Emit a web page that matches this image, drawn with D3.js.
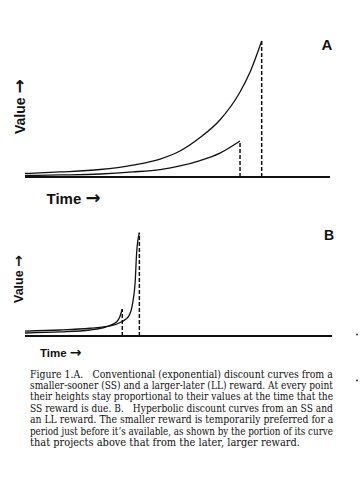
<!DOCTYPE html>
<html>
<head>
<meta charset="utf-8">
<script src="https://cdn.jsdelivr.net/npm/d3@7"></script>
<style>
  html, body { margin: 0; padding: 0; background: #fff; }
  svg { display: block; }
</style>
</head>
<body>
<svg id="chart" width="364" height="499"></svg>
<script>
// ---------- DATA ----------
// Panel A: exponential discount curves (time 0..100, value: LL peak = 100)
const timeA_LL  = [0, 11.5, 24.6, 35.4, 44.3, 50.8, 57.4, 63.9, 70.5, 73.8, 77.6];
const valueA_LL = [2.6, 3.7, 5.5, 8.8, 13.2, 19.1, 29.0, 41.9, 62.5, 77.2, 100];
const timeA_SS  = [0, 11.5, 24.6, 35.4, 44.3, 50.8, 57.4, 63.9, 70.5];
const valueA_SS = [1.1, 1.5, 2.2, 3.7, 5.5, 8.1, 12.1, 17.6, 26.5];
const dueA      = [70.5, 77.6];   // SS, LL reward times
const rewardA   = [26.5, 100];    // SS, LL reward sizes

// Panel B: hyperbolic discount curves
const timeB_LL  = [0, 11.5, 21.3, 27.9, 31.7, 33.9, 35.3, 36.1, 36.6, 37.5];
const valueB_LL = [4.8, 5.8, 7.5, 9.7, 13.8, 18.7, 31.9, 51.3, 80.3, 100];
const timeB_SS  = [0, 11.5, 21.3, 26.8, 30.1, 31.1, 31.9];
const valueB_SS = [2.9, 3.9, 5.8, 9.0, 13.8, 18.7, 26.1];
const dueB      = [31.9, 37.5];
const rewardB   = [26.1, 100];

const timeDomain  = [0, 100];
const valueDomain = [0, 100];

const panelLabels = ["A", "B"];
const axisWords   = ["Value", "Time"];
const arrowGlyph  = "\u2192";

const captionLines = [
  "Figure 1.A.\u2002\u2002Conventional (exponential) discount curves from a",
  "smaller-sooner (SS) and a larger-later (LL) reward. At every point",
  "their heights stay proportional to their values at the time that the",
  "SS reward is due. B.\u2002\u2002Hyperbolic discount curves from an SS and",
  "an LL reward. The smaller reward is temporarily preferred for a",
  "period just before it\u2019s available, as shown by the portion of its curve",
  "that projects above that from the later, larger reward."
];

// ---------- DRAW ----------
const svg = d3.select("#chart");
const zip = (ts, vs) => ts.map((t, i) => [t, vs[i]]);
const SANS = "Liberation Sans, Arial, sans-serif";

function labelWithArrow(g, word, size, arrowSize) {
  const t = g.append("text")
    .attr("font-family", SANS).attr("font-weight", "bold")
    .attr("font-size", size).attr("fill", "#111");
  t.append("tspan").text(word + " ");
  t.append("tspan").text(arrowGlyph)
    .attr("font-family", "DejaVu Sans, sans-serif")
    .attr("font-size", arrowSize);
  return t;
}

function panel(cfg) {
  const x = d3.scaleLinear().domain(timeDomain).range([cfg.x0, cfg.x1]);
  const y = d3.scaleLinear().domain(valueDomain).range([cfg.base, cfg.top]);
  const g = svg.append("g");
  const line = d3.line().x(d => x(d[0])).y(d => y(d[1])).curve(d3.curveMonotoneX);

  // baseline (time axis)
  g.append("line")
    .attr("x1", x(timeDomain[0])).attr("x2", x(timeDomain[1]) + cfg.extra)
    .attr("y1", y(0)).attr("y2", y(0))
    .attr("stroke", "#111").attr("stroke-width", 2);

  // curves
  [cfg.ll, cfg.ss].forEach(pts => {
    g.append("path").attr("d", line(pts))
      .attr("fill", "none").attr("stroke", "#111").attr("stroke-width", 1.3);
  });

  // dashed reward lines
  cfg.due.forEach((t, i) => {
    g.append("line")
      .attr("x1", x(t)).attr("x2", x(t))
      .attr("y1", y(0)).attr("y2", y(cfg.reward[i]))
      .attr("stroke", "#111").attr("stroke-width", 1.5)
      .attr("stroke-dasharray", "4,2");
  });

  // panel letter
  g.append("text").text(cfg.letter)
    .attr("x", cfg.letterX).attr("y", cfg.letterY)
    .attr("text-anchor", "middle")
    .attr("font-family", SANS)
    .attr("font-weight", "bold").attr("font-size", cfg.letterSize)
    .attr("fill", "#111");

  // value label (rotated)
  labelWithArrow(g, axisWords[0], cfg.valSize, cfg.valArrow)
    .attr("transform", `translate(${cfg.valX},${cfg.valY}) rotate(-90)`);

  // time label
  labelWithArrow(g, axisWords[1], cfg.timeSize, cfg.timeArrow)
    .attr("x", cfg.timeX).attr("y", cfg.timeY);
}

panel({
  x0: 25, x1: 330, extra: 0, base: 177, top: 41,
  ll: zip(timeA_LL, valueA_LL), ss: zip(timeA_SS, valueA_SS),
  due: dueA, reward: rewardA,
  letter: panelLabels[0], letterX: 327, letterY: 49.5, letterSize: 15,
  valX: 25, valY: 134, valSize: 14, valArrow: 17,
  timeX: 46.5, timeY: 204, timeSize: 15, timeArrow: 18
});

panel({
  x0: 25, x1: 330, extra: 2, base: 336, top: 232.7,
  ll: zip(timeB_LL, valueB_LL), ss: zip(timeB_SS, valueB_SS),
  due: dueB, reward: rewardB,
  letter: panelLabels[1], letterX: 329, letterY: 239.5, letterSize: 14,
  valX: 22.5, valY: 303, valSize: 12.5, valArrow: 14,
  timeX: 40, timeY: 356.7, timeSize: 11.5, timeArrow: 14
});

// caption: each line fitted to its measured width with a horizontal scale
const cap = svg.append("g")
  .attr("font-family", "DejaVu Serif, serif")
  .attr("font-size", 10.2)
  .attr("fill", "#111");
const capLeft = 30, capRight = 333, capTop = 377.5, capStep = 11.4, lastRight = 300;
captionLines.forEach((s, i) => {
  const t = cap.append("text")
    .attr("x", 0).attr("y", 0)
    .attr("xml:space", "preserve").style("white-space", "pre")
    .text(s);
  const w = t.node().getComputedTextLength();
  const L = (i < captionLines.length - 1 ? capRight : lastRight) - capLeft;
  t.attr("transform", `translate(${capLeft},${capTop + i * capStep}) scale(${L / w},1)`);
});

// scanner specks at the right margin
const specks = [[357, 334.5], [357, 380.5]];
svg.selectAll("circle.speck").data(specks).enter().append("circle")
  .attr("class", "speck")
  .attr("cx", d => d[0]).attr("cy", d => d[1]).attr("r", 1)
  .attr("fill", "#333");
</script>
</body>
</html>
